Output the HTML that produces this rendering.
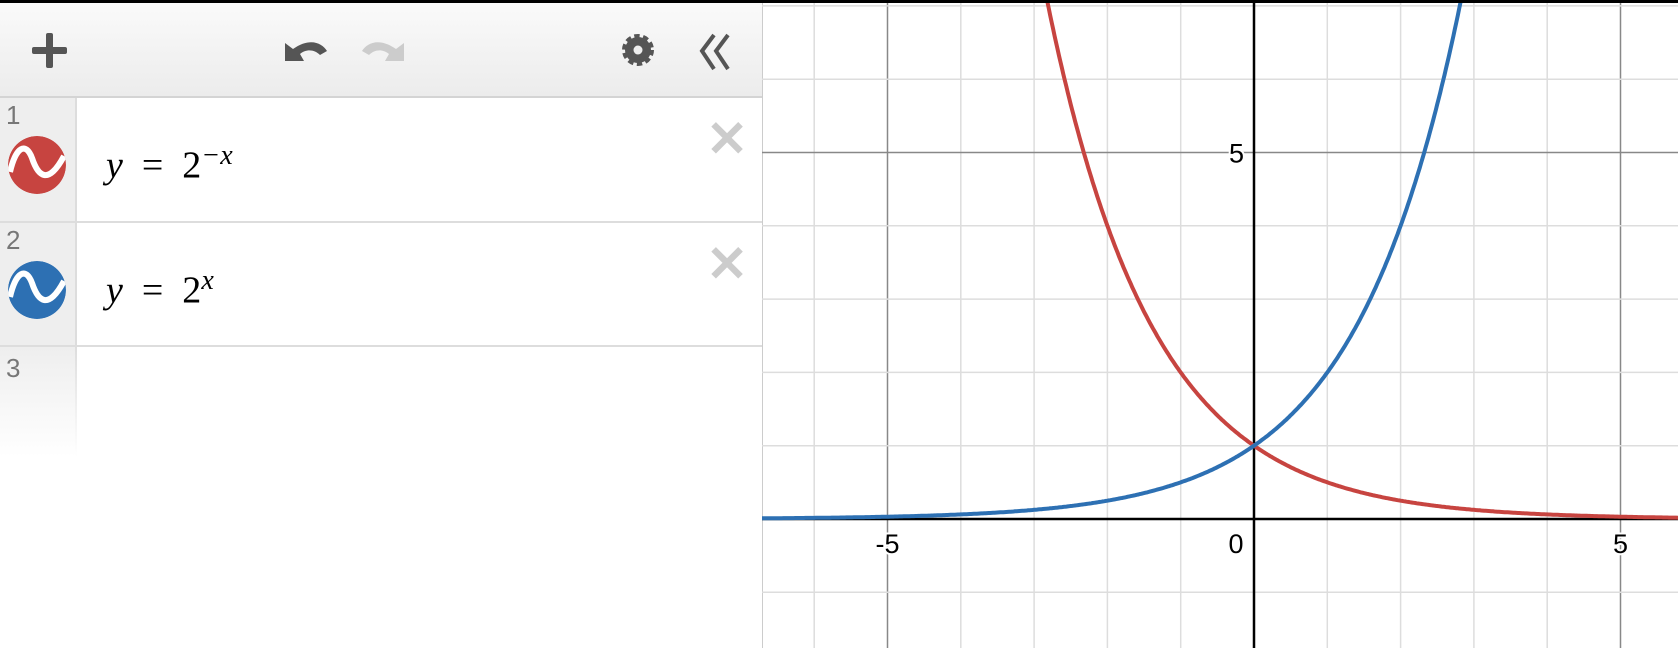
<!DOCTYPE html>
<html><head><meta charset="utf-8"><style>
body{margin:0;width:1678px;height:648px;overflow:hidden;background:#fff;font-family:"Liberation Sans",sans-serif;position:relative}
#topbar{position:absolute;left:0;top:0;width:1678px;height:3px;background:#000}
#panel{position:absolute;left:0;top:3px;width:762px;height:645px;border-right:1px solid #ccc;background:#fff}
#hdr{position:absolute;left:0;top:0;width:762px;height:93px;background:linear-gradient(#fafafa,#ececec);border-bottom:2px solid #d4d4d4}
.row{position:absolute;left:0;width:762px;border-bottom:2px solid #ddd}
.num{position:absolute;left:0;top:0;width:75px;height:100%;background:#eee;border-right:2px solid #ddd;color:#777;font-size:26px}
.num span{position:absolute;left:6px;top:2px}
.expr{position:absolute;left:106px;font-family:"Liberation Serif",serif;font-size:38px;color:#000}
.x{position:absolute;right:14px;top:16px;color:#ccc;font-size:50px;line-height:1;font-weight:bold}
.icon{position:absolute;left:8px;top:38px;width:58px;height:58px;border-radius:50%}
</style></head><body>
<div id="topbar"></div>
<div id="panel">
 <div id="hdr">
  <svg width="762" height="93" style="position:absolute;left:0;top:0">
   <g><rect x="32" y="44" width="35" height="7" rx="2" fill="#555"/><rect x="46" y="30" width="7" height="35" rx="2" fill="#555"/></g>
   <g><path d="M285 58 L285 40 L293 46 C310 34 322 40 327 48 L320 52 C314 46 306 46 300 51 L304 58 Z" fill="#555"/></g>
   <g><path d="M404 58 L404 40 L396 46 C379 34 367 40 362 48 L369 52 C375 46 383 46 389 51 L385 58 Z" fill="#ccc"/></g>
   <g><circle cx="638" cy="47" r="13" fill="#555" stroke="#555" stroke-width="6" stroke-dasharray="5 3.2"/><circle cx="638" cy="47" r="4.5" fill="#eee"/></g>
   <g fill="none" stroke="#555" stroke-width="4"><path d="M714 32 L702 48 L714 66"/><path d="M728 32 L716 48 L728 66"/></g>
  </svg>
 </div>
 <div class="row" style="top:95px;height:123px">
  <div class="num"><span>1</span>
   <svg class="icon" viewBox="0 0 58 58"><circle cx="29" cy="29" r="29" fill="#c74440"/><path d="M2 36 C8 10 18 6 24 22 C30 40 40 50 56 20" stroke="#fff" stroke-width="6" fill="none"/></svg></div>
  <div class="expr" style="top:42px"><i>y</i> &nbsp;= &nbsp;2<sup style="font-size:28px"><i>−x</i></sup></div>
  <div class="x">✕</div>
 </div>
 <div class="row" style="top:220px;height:122px">
  <div class="num"><span>2</span>
   <svg class="icon" viewBox="0 0 58 58"><circle cx="29" cy="29" r="29" fill="#2d70b3"/><path d="M2 36 C8 10 18 6 24 22 C30 40 40 50 56 20" stroke="#fff" stroke-width="6" fill="none"/></svg></div>
  <div class="expr" style="top:42px"><i>y</i> &nbsp;= &nbsp;2<sup style="font-size:28px"><i>x</i></sup></div>
  <div class="x">✕</div>
 </div>
 <div style="position:absolute;left:0;top:344px;width:75px;height:110px;background:linear-gradient(#eee,#fff);color:#777;font-size:26px"><span style="position:absolute;left:6px;top:6px">3</span></div>
 <div style="position:absolute;left:75px;top:344px;width:2px;height:110px;background:linear-gradient(#ddd,#fff)"></div>
</div>
<svg id="graph" width="916" height="645" style="position:absolute;left:762px;top:3px"></svg>
<script>
const bases=[0.5,2];
const colors=['#c74440','#2d70b3'];
const names=['curve-2-pow-neg-x','curve-2-pow-x'];
const xTicks=[-5,0,5];
const yTicks=[5];
const svg=document.getElementById('graph');
const NS='http://www.w3.org/2000/svg';
const ox=1254-762, oy=519-3, u=73.3;
const X=v=>ox+v*u, Y=v=>oy-v*u;
function mk(t,a){const e=document.createElementNS(NS,t);for(const k in a)e.setAttribute(k,a[k]);svg.appendChild(e);return e;}
for(let i=-7;i<=6;i++){const l=mk('line',{x1:X(i),x2:X(i),y1:0,y2:645,stroke:i%5==0?'#888':'#ddd','stroke-width':i%5==0?1.5:1.5});

}
for(let j=-2;j<=8;j++){const l=mk('line',{x1:0,x2:916,y1:Y(j),y2:Y(j),stroke:j%5==0?'#888':'#ddd','stroke-width':j%5==0?1.5:1.5});

}
const xa=mk('line',{x1:0,x2:916,y1:Y(0),y2:Y(0),stroke:'#000','stroke-width':2.5});


const ya=mk('line',{x1:X(0),x2:X(0),y1:0,y2:645,stroke:'#000','stroke-width':2.5});


bases.forEach((b,k)=>{let d='';for(let x=-7;x<=6.5;x+=0.02){const y=Math.pow(b,x);const py=Math.max(Y(y),-20);d+=(d?'L':'M')+X(x).toFixed(1)+' '+py.toFixed(1);}
const p=mk('path',{d:d,fill:'none',stroke:colors[k],'stroke-width':4});

});
xTicks.forEach(v=>{const t=mk('text',{x:X(v)-(v==0?18:0),y:Y(0)+34,'text-anchor':'middle','font-size':27,'font-family':'Liberation Sans,sans-serif',fill:'#000',stroke:'#fff','stroke-width':4,'paint-order':'stroke'});t.textContent=v;

});
yTicks.forEach(v=>{const t=mk('text',{x:X(0)-10,y:Y(v)+10,'text-anchor':'end','font-size':27,'font-family':'Liberation Sans,sans-serif',fill:'#000',stroke:'#fff','stroke-width':4,'paint-order':'stroke'});t.textContent=v;

});
</script>
</body></html>
